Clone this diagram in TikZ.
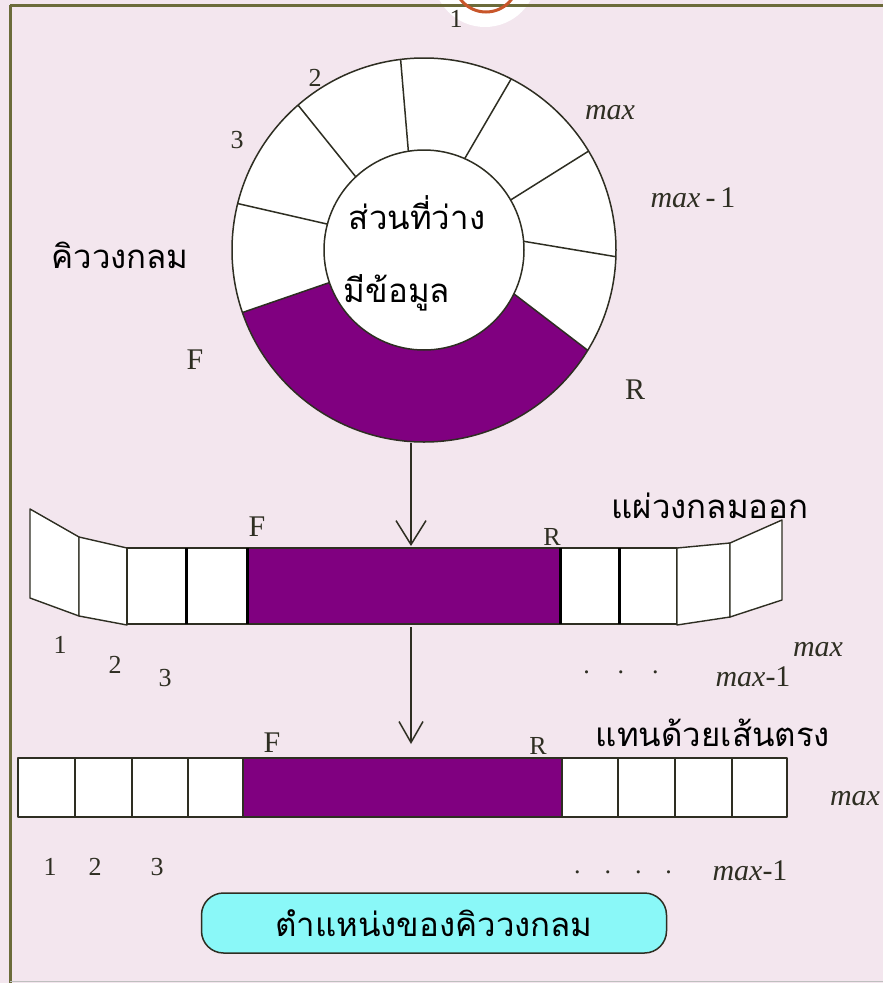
\documentclass[tikz,border=0pt]{standalone}
\usepackage{fontspec}
\setmainfont{Liberation Serif}
\newfontfamily\thaifont[Script=Thai]{Loma}
\usetikzlibrary{arrows.meta,calc}
\definecolor{bgpink}{HTML}{F3E6EE}
\definecolor{qpurple}{HTML}{800080}
\definecolor{framecol}{HTML}{6B6B3A}
\definecolor{ink}{HTML}{2E2E22}
\definecolor{btncyan}{HTML}{8AF8F8}
\definecolor{ringorange}{HTML}{C8562A}
\begin{document}
\begin{tikzpicture}[x=1pt,y=-1pt,
  cell/.style={draw=ink,line width=1.4pt,fill=white,line join=round},
  pcell/.style={draw=ink,line width=1.4pt,fill=qpurple},
  thickdiv/.style={draw=black,line width=3pt},
  ringline/.style={draw=ink,line width=1.5pt},
  lbl/.style={inner sep=0pt,font=\fontsize{30}{32}\selectfont,text=ink},
  smlbl/.style={inner sep=0pt,font=\fontsize{26}{28}\selectfont,text=ink},
  mxlbl/.style={inner sep=0pt,font=\fontsize{30}{32}\selectfont\itshape,text=ink},
  thlbl/.style={inner sep=0pt,font=\fontsize{33}{36}\selectfont\thaifont,text=black},
  arrA/.style={draw=ink,line width=1.5pt,-{Straight Barb[length=24pt,width=30pt,line width=1.5pt]}},
  arrB/.style={draw=ink,line width=1.5pt,-{Straight Barb[length=21pt,width=24pt,line width=1.5pt]}},
  button/.style={draw=ink,line width=1.5pt,fill=btncyan,rounded corners=22pt,
    minimum width=465pt,minimum height=60pt,inner sep=0pt,
    font=\fontsize{33}{36}\selectfont\thaifont}
]
\useasboundingbox (0,0) rectangle (883,983);
\begin{scope}
\clip (0,0) rectangle (883,983);
\fill[bgpink] (0,0) rectangle (883,983);
% artifact at the top
\fill[white] (485,-25) circle (52);
\draw[framecol,line width=3pt] (10,5) -- (883,5);
\draw[framecol,line width=3pt] (10,5) -- (10,983);
\draw[black!25,line width=1pt] (10,981.5) -- (883,981.5);
\draw[ringorange,line width=3pt] (486,-20) circle (32);
\end{scope}

% ---------------- circular queue ----------------
\coordinate (C) at (424,250);
\fill[white] (C) circle (192);
\fill[qpurple] ($(C)+(31.5:192)$) arc[start angle=31.5,end angle=161,radius=192]
   -- ($(C)+(161:100)$) arc[start angle=161,end angle=26,radius=100] -- cycle;
\foreach \o/\i in {-97/-99,-63/-66,-31/-30,2/-5,31.5/26,161/161,-166/-165,-131/-133}
  \draw[ringline] ($(C)+(\o:192)$) -- ($(C)+(\i:100)$);
\draw[ringline] (C) circle (192);
\draw[ringline,fill=white] (C) circle (100);

\node[thlbl] (free) at (417,213) {ส่วนที่ว่าง};
\node[thlbl] (data) at (397,293) {มีข้อมูล};
\node[thlbl] (cq) at (120,255) {คิววงกลม};
\node[smlbl] (c1) at (456,19) {1};
\node[smlbl] (c2) at (315,78) {2};
\node[smlbl] (c3) at (237,140) {3};
\node[mxlbl] (cmax) at (610,113) {max};
\node[mxlbl] (cmaxm) at (693,198) {max\,\upshape-\,1};
\node[lbl] (cF) at (195,360) {F};
\node[lbl] (cR) at (635,390) {R};

% ---------------- unrolled strip ----------------
\path[cell] (30,509) -- (79,537) -- (79,616) -- (30,598) -- cycle;
\path[cell] (79,537) -- (127,548) -- (127,625) -- (79,616) -- cycle;
\path[cell] (127,548) rectangle (186,624);
\path[cell] (186,548) rectangle (247,624);
\path[pcell] (247,548) rectangle (560,624);
\path[cell] (560,548) rectangle (619,624);
\path[cell] (619,548) rectangle (677,624);
\path[cell] (677,548) -- (730,543) -- (730,617) -- (677,625) -- cycle;
\path[cell] (730,543) -- (782,520) -- (782,600) -- (730,617) -- cycle;
\foreach \x in {186,247,560,619} \draw[thickdiv] (\x,548) -- (\x,624);

\node[lbl] (sF) at (257,527) {F};
\node[smlbl] (sR) at (552,537) {R};
\node[thlbl] (unroll) at (710,506) {แผ่วงกลมออก};
\node[smlbl] (s1) at (60,645) {1};
\node[smlbl] (s2) at (115,665) {2};
\node[smlbl] (s3) at (165,678) {3};
\node[smlbl] (sdots) at (621,672) {.\hspace{28pt}.\hspace{28pt}.};
\node[mxlbl] (smaxm) at (753,677) {max\upshape-1};
\node[mxlbl] (smax) at (818,650) {max};

% ---------------- straight line ----------------
\foreach \a/\b in {18/75,75/132,132/188,188/243,562/618,618/675,675/732,732/787}
  \path[cell] (\a,758) rectangle (\b,817);
\path[pcell] (243,758) rectangle (562,817);

\node[lbl] (bF) at (272,743) {F};
\node[smlbl] (bR) at (538,746) {R};
\node[thlbl] (straight) at (713,733) {แทนด้วยเส้นตรง};
\node[mxlbl] (bmax) at (855,799) {max};
\node[smlbl] (b1) at (50,867) {1};
\node[smlbl] (b2) at (95,867) {2};
\node[smlbl] (b3) at (157,867) {3};
\node[smlbl] (bdots) at (623,872) {.\hspace{24pt}.\hspace{24pt}.\hspace{24pt}.};
\node[mxlbl] (bmaxm) at (750,871) {max\upshape-1};

% ---------------- arrows ----------------
\coordinate (a1s) at (411,443);
\coordinate (a1e) at (411,546);
\coordinate (a2s) at (411,627);
\coordinate (a2e) at (411,744);
\draw[arrA] (a1s) -- (a1e);
\draw[arrB] (a2s) -- (a2e);

% ---------------- caption button ----------------
\node[button] (btn) at (434,923) {ตำแหน่งของคิววงกลม};
\end{tikzpicture}
\end{document}
